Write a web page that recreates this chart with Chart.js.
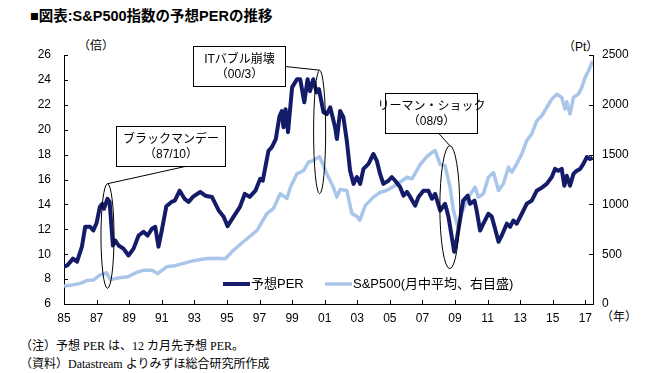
<!DOCTYPE html>
<html lang="ja">
<head>
<meta charset="utf-8">
<script src="https://cdn.jsdelivr.net/npm/chart.js@4.4.0/dist/chart.umd.min.js"></script>
<style>
  body { margin: 0; background: #fff; }
  #wrap { position: relative; width: 645px; height: 373px; overflow: hidden; }
  #chart { position: absolute; left: 0; top: 0; }
  .txt { position: absolute; white-space: nowrap; color: #000; font-family: "Liberation Sans", "Noto Sans CJK JP", sans-serif; }
  .title { left: 30px; top: 4px; font-size: 14.5px; font-weight: bold; }
  .unit { font-size: 12px; }
  .note { left: 20px; font-size: 12px; font-family: "Liberation Serif", "Noto Sans CJK JP", serif; }
</style>
</head>
<body>
<div id="wrap">
  <div class="txt title">■図表:S&amp;P500指数の予想PERの推移</div>
  <div class="txt unit" style="left:78px;top:36px">（倍）</div>
  <div class="txt unit" style="left:563px;top:37px">（Pt）</div>
  <div class="txt unit" style="left:601px;top:307px">（年）</div>
  <div class="txt note" style="top:336px">（注）予想 PER は、12 カ月先予想 PER。</div>
  <div class="txt note" style="top:354px">（資料）Datastream よりみずほ総合研究所作成</div>
  <canvas id="chart" width="645" height="373"></canvas>
</div>
<script>
// 予想PER (倍) — 年（小数）と値
const perYears = [
  1985.0, 1985.2, 1985.4, 1985.55, 1985.8, 1986.1, 1986.3, 1986.6, 1986.8, 1987.0,
  1987.2, 1987.35, 1987.45, 1987.67, 1987.8, 1988.0, 1988.15, 1988.35, 1988.65, 1988.96,
  1989.27, 1989.58, 1989.88, 1990.13, 1990.4, 1990.6, 1990.8, 1991.0, 1991.28, 1991.6,
  1991.8, 1992.1, 1992.4, 1992.65, 1992.95, 1993.36, 1993.67, 1994.08, 1994.5, 1994.8,
  1995.04, 1995.4, 1995.8, 1996.1, 1996.4, 1996.75, 1997.04, 1997.2, 1997.55, 1997.76,
  1998.0, 1998.23, 1998.37, 1998.47, 1998.6, 1998.75, 1999.0, 1999.3, 1999.5, 1999.75,
  1999.95, 2000.1, 2000.3, 2000.5, 2000.65, 2000.93, 2001.13, 2001.34, 2001.64, 2001.75,
  2001.95, 2002.15, 2002.36, 2002.56, 2002.77, 2002.98, 2003.18, 2003.38, 2003.69, 2003.99,
  2004.2, 2004.4, 2004.6, 2004.91, 2005.12, 2005.33, 2005.63, 2005.84, 2006.05, 2006.25,
  2006.55, 2006.76, 2007.06, 2007.37, 2007.58, 2007.78, 2008.09, 2008.39, 2008.6, 2008.8,
  2008.95, 2009.1, 2009.2, 2009.5, 2009.78, 2009.92, 2010.2, 2010.33, 2010.54, 2010.74,
  2011.05, 2011.26, 2011.46, 2011.67, 2011.87, 2012.18, 2012.38, 2012.58, 2012.79, 2013.1,
  2013.4, 2013.71, 2014.02, 2014.33, 2014.63, 2014.94, 2015.14, 2015.34, 2015.55, 2015.71,
  2015.86, 2016.06, 2016.27, 2016.47, 2016.68, 2016.88, 2017.09, 2017.29, 2017.45
];
const perValues = [
  9.0, 9.1, 9.4, 9.65, 9.4, 10.6, 12.2, 12.2, 11.9, 12.5,
  13.8, 14.05, 13.65, 14.45, 14.2, 10.7, 11.1, 10.7, 10.45, 9.9,
  10.45, 11.5, 11.8, 11.5, 12.05, 12.2, 10.6, 11.9, 13.85, 14.2,
  14.3, 15.1, 14.45, 14.2, 14.65, 15.0, 14.7, 14.6, 13.5, 13.0,
  12.25, 13.0, 13.8, 14.85, 14.6, 15.1, 16.05, 15.9, 18.3, 18.6,
  19.25, 21.1, 21.5, 20.2, 21.65, 19.8, 23.4, 24.05, 24.05, 22.2,
  24.05, 23.1, 24.05, 23.0, 23.25, 21.4, 21.25, 21.8, 20.2, 19.25,
  21.5, 21.0, 19.1, 16.7, 15.65, 16.2, 15.65, 16.85, 17.25, 18.05,
  17.5, 16.45, 15.65, 15.9, 16.2, 15.9, 15.4, 14.7, 15.0, 14.6,
  13.9, 14.6, 15.1, 15.1, 14.45, 14.85, 13.5, 14.05, 13.0, 11.4,
  10.2, 11.1, 11.9, 14.3, 14.7, 14.05, 14.3, 13.5, 11.9, 12.45,
  13.25, 13.0, 12.05, 11.0, 11.5, 12.45, 12.2, 12.7, 12.45, 13.25,
  14.05, 14.3, 15.1, 15.35, 15.65, 16.2, 16.85, 16.7, 16.85, 15.5,
  16.3, 15.5, 16.45, 16.7, 16.85, 17.25, 17.8, 17.65, 17.75
];

// S&P500 (Pt, 月中平均)
const spxYears = [
  1985.0, 1985.5, 1986.0, 1986.4, 1986.8, 1987.2, 1987.6, 1987.85, 1988.3, 1988.9,
  1989.5, 1989.9, 1990.4, 1990.75, 1991.3, 1991.8, 1992.4, 1992.95, 1993.77, 1994.4,
  1994.9, 1995.4, 1995.9, 1996.2, 1996.85, 1997.45, 1997.86, 1998.27, 1998.68, 1998.9,
  1999.3, 1999.7, 2000.0, 2000.3, 2000.67, 2000.93, 2001.13, 2001.54, 2001.75, 2001.95,
  2002.36, 2002.67, 2002.98, 2003.15, 2003.5, 2003.99, 2004.4, 2004.8, 2005.43, 2006.05,
  2006.36, 2006.86, 2007.27, 2007.58, 2007.78, 2008.09, 2008.39, 2008.7, 2008.9, 2009.2,
  2009.42, 2009.82, 2010.23, 2010.44, 2010.74, 2011.05, 2011.36, 2011.67, 2011.97, 2012.28,
  2012.49, 2012.79, 2013.1, 2013.4, 2013.71, 2014.02, 2014.33, 2014.63, 2014.94, 2015.25,
  2015.55, 2015.75, 2015.86, 2016.06, 2016.27, 2016.57, 2016.78, 2016.98, 2017.19, 2017.45
];
const spxValues = [
  180, 190, 207, 235, 240, 290, 313, 245, 260, 273,
  320, 340, 340, 305, 373, 385, 410, 435, 457, 460,
  455, 540, 610, 650, 740, 907, 960, 1107, 1060, 1173,
  1307, 1340, 1423, 1440, 1480, 1390, 1307, 1170, 1073, 1150,
  1140, 907, 880, 840, 990, 1073, 1120, 1140, 1200, 1273,
  1257, 1400, 1480, 1520, 1540, 1400, 1390, 1170, 940, 760,
  920, 1073, 1173, 1073, 1107, 1273, 1320, 1140, 1207, 1373,
  1323, 1407, 1507, 1640, 1707, 1840, 1890, 1973, 2057, 2107,
  2073, 1957, 2030, 1907, 2073, 2107, 2173, 2273, 2340, 2440
];

const xTickYears = [1985, 1987, 1989, 1991, 1993, 1995, 1997, 1999, 2001, 2003, 2005, 2007, 2009, 2011, 2013, 2015, 2017];
const perTicks = [6, 8, 10, 12, 14, 16, 18, 20, 22, 24, 26];
const spxTicks = [0, 500, 1000, 1500, 2000, 2500];

const PER_COLOR = '#141b68';
const SPX_COLOR = '#a9c6ea';
const FONT = '"Liberation Sans", "Noto Sans CJK JP", sans-serif';

// 吹き出し: 中心(年, PER), 大きさpx, 引出線の起点(箱内の割合), 楕円(年, PER, 半幅年, 半高PER)
const annotations = [
  { lines: ['ブラックマンデー', '（87/10）'], at: [1991.53, 18.72], size: [109, 40], from: [0.63, 1], ellipse: [1987.67, 11.46, 0.4, 4.2] },
  { lines: ['ITバブル崩壊', '（00/3）'], at: [1995.75, 25.12], size: [92, 40], from: [1, 0.5], ellipse: [2000.69, 19.82, 0.37, 4.96] },
  { lines: ['リーマン・ショック', '（08/9）'], at: [2007.53, 21.36], size: [92, 40], from: [0.58, 1], ellipse: [2008.68, 13.78, 0.61, 4.94] },
];

const toPoints = (xs, ys) => xs.map((x, i) => ({ x, y: ys[i] }));

const innerTicks = {
  id: 'innerTicks',
  afterDatasetsDraw(chart) {
    const { ctx, chartArea: a, scales } = chart;
    ctx.save();
    ctx.strokeStyle = '#000';
    ctx.lineWidth = 1;
    ctx.beginPath();
    xTickYears.forEach(v => {
      const px = Math.round(scales.x.getPixelForValue(v)) + 0.5;
      ctx.moveTo(px, a.bottom); ctx.lineTo(px, a.bottom - 4);
    });
    perTicks.forEach(v => {
      const py = Math.round(scales.y.getPixelForValue(v)) + 0.5;
      ctx.moveTo(a.left, py); ctx.lineTo(a.left + 4, py);
    });
    spxTicks.forEach(v => {
      const py = Math.round(scales.y2.getPixelForValue(v)) + 0.5;
      ctx.moveTo(a.right, py); ctx.lineTo(a.right - 4, py);
    });
    ctx.stroke();
    ctx.restore();
  }
};

const callouts = {
  id: 'callouts',
  afterDatasetsDraw(chart) {
    const { ctx, scales } = chart;
    ctx.save();
    ctx.strokeStyle = '#000';
    ctx.lineWidth = 1;
    annotations.forEach(an => {
      const [ey, ev, erx, ery] = an.ellipse;
      const cx = scales.x.getPixelForValue(ey);
      const cy = scales.y.getPixelForValue(ev);
      const rx = Math.abs(scales.x.getPixelForValue(ey + erx) - cx);
      const ry = Math.abs(scales.y.getPixelForValue(ev + ery) - cy);
      ctx.beginPath();
      ctx.ellipse(cx, cy, rx, ry, 0, 0, Math.PI * 2);
      ctx.stroke();

      const bx = Math.round(scales.x.getPixelForValue(an.at[0]) - an.size[0] / 2) + 0.5;
      const by = Math.round(scales.y.getPixelForValue(an.at[1]) - an.size[1] / 2) + 0.5;
      const [w, h] = an.size;

      ctx.beginPath();
      ctx.moveTo(bx + w * an.from[0], by + h * an.from[1]);
      ctx.lineTo(cx, cy - ry);
      ctx.stroke();

      ctx.fillStyle = '#fff';
      ctx.fillRect(bx, by, w, h);
      ctx.strokeRect(bx, by, w, h);

      ctx.fillStyle = '#000';
      ctx.font = '12px ' + FONT;
      ctx.textAlign = 'center';
      ctx.textBaseline = 'middle';
      ctx.fillText(an.lines[0], bx + w / 2, by + 13);
      ctx.fillText(an.lines[1], bx + w / 2, by + 28);
    });
    ctx.restore();
  }
};

const bottomLegend = {
  id: 'bottomLegend',
  afterDatasetsDraw(chart) {
    const { ctx, chartArea: a } = chart;
    const y = a.bottom - 20;
    const items = [{ x: a.left + 159, ds: chart.data.datasets[0] }, { x: a.left + 261, ds: chart.data.datasets[1] }];
    ctx.save();
    ctx.font = '13px ' + FONT;
    ctx.textBaseline = 'middle';
    ctx.fillStyle = '#000';
    items.forEach(it => {
      ctx.strokeStyle = it.ds.borderColor;
      ctx.lineWidth = it.ds.borderWidth;
      ctx.beginPath();
      ctx.moveTo(it.x, y); ctx.lineTo(it.x + 27, y);
      ctx.stroke();
      ctx.fillText(it.ds.label, it.x + 28, y);
    });
    ctx.restore();
  }
};

new Chart(document.getElementById('chart'), {
  type: 'line',
  data: {
    datasets: [
      { label: '予想PER', data: toPoints(perYears, perValues), yAxisID: 'y',
        borderColor: PER_COLOR, borderWidth: 4, pointRadius: 0, tension: 0, borderJoinStyle: 'round' },
      { label: 'S&P500(月中平均、右目盛)', data: toPoints(spxYears, spxValues), yAxisID: 'y2',
        borderColor: SPX_COLOR, borderWidth: 3.5, pointRadius: 0, tension: 0, borderJoinStyle: 'round' },
    ],
  },
  options: {
    responsive: false,
    animation: false,
    layout: { padding: { top: 55, left: 0, right: 0, bottom: 0 } },
    plugins: { legend: { display: false }, tooltip: { enabled: false } },
    scales: {
      x: {
        type: 'linear', min: 1985, max: 2017.47,
        afterBuildTicks: s => { s.ticks = xTickYears.map(v => ({ value: v })); },
        afterFit: s => { s.height = 69; },
        grid: { display: false, drawTicks: false },
        border: { display: true, color: '#000', width: 1 },
        ticks: { color: '#000', font: { size: 12, family: FONT }, padding: 7, maxRotation: 0, autoSkip: false,
          callback: v => String(v % 100).padStart(2, '0') },
      },
      y: {
        position: 'left', min: 6, max: 26,
        afterBuildTicks: s => { s.ticks = perTicks.map(v => ({ value: v })); },
        afterFit: s => { s.width = 64; },
        grid: { display: false, drawTicks: false },
        border: { display: true, color: '#000', width: 1 },
        ticks: { color: '#000', font: { size: 12, family: FONT }, padding: 13, callback: v => String(v) },
      },
      y2: {
        position: 'right', min: 0, max: 2500,
        afterBuildTicks: s => { s.ticks = spxTicks.map(v => ({ value: v })); },
        afterFit: s => { s.width = 52; },
        grid: { display: false, drawTicks: false },
        border: { display: true, color: '#000', width: 1 },
        ticks: { color: '#000', font: { size: 12, family: FONT }, padding: 9, callback: v => String(v) },
      },
    },
  },
  plugins: [innerTicks, callouts, bottomLegend],
});
</script>
</body>
</html>
